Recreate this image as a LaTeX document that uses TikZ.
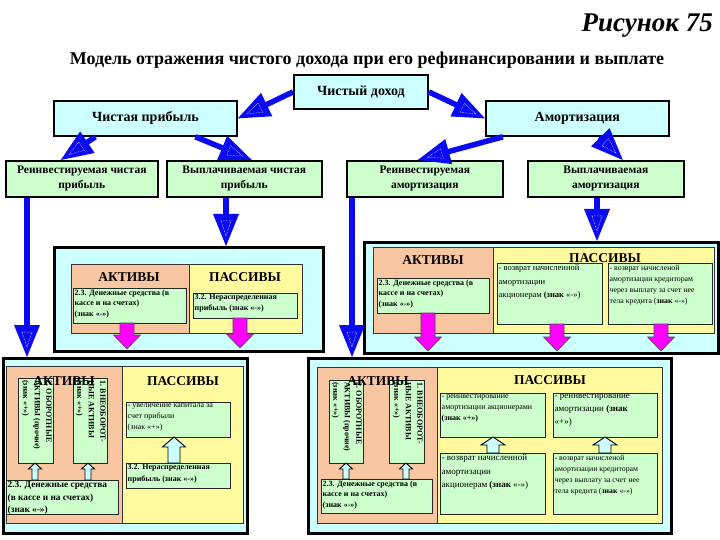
\documentclass[tikz,border=0pt]{standalone}
\usepackage{fontspec}
\setmainfont{Liberation Serif}
\usetikzlibrary{decorations.markings,calc}
\definecolor{cyanbg}{HTML}{CCFFFF}
\definecolor{greenbg}{HTML}{CCFFCC}
\definecolor{orangebg}{HTML}{F8C6A0}
\definecolor{yellowbg}{HTML}{FFFA9E}
\definecolor{arrowblue}{HTML}{0A0AF5}
\definecolor{magentaar}{HTML}{FF00FF}
\newcommand\fsz[1]{\fontsize{#1}{#1}\selectfont}
% block arrow: x, y1 (start), y2 (tip), shaft half, head half, head length (signed), style
\newcommand\blockarr[7]{%
  \filldraw[#7] ({#1-#4},#2) -- ({#1-#4},{#3-#6}) -- ({#1-#5},{#3-#6}) -- (#1,#3)
    -- ({#1+#5},{#3-#6}) -- ({#1+#4},{#3-#6}) -- ({#1+#4},#2) -- cycle;}
% text box: name, x, y, w, h, font, text
\newcommand\txtbox[7]{%
  \node[tboxshape, minimum width=#4pt, minimum height=#5pt] (#1) at (#2,#3) {};
  \node[tboxtext, font=#6] (#1t) at ([xshift=0.5pt,yshift=-0.5pt]#1.north west) {#7};}
% vertical text box
\newcommand\vertbox[6]{%
  \node[tboxshape, minimum width=#4pt, minimum height=#5pt] (#1) at (#2,#3) {};
  \node[vtext, rotate=-90, anchor=north west] (#1t) at ([xshift=-1pt,yshift=-1pt]#1.north east) {#6};}
\begin{document}
\begin{tikzpicture}[x=1pt,y=-1pt,
  topbox/.style={draw, line width=1.8pt, fill=cyanbg, anchor=north west, inner sep=0pt,
    align=center, font=\bfseries\fsz{14}},
  greenbox/.style={draw, line width=1.6pt, fill=greenbg, anchor=north west, inner sep=0pt,
    align=center, font=\bfseries\fontsize{11.5}{15}\selectfont},
  panel/.style={draw, line width=2.5pt, fill=cyanbg, anchor=north west, inner sep=0pt},
  actarea/.style={draw=black!80, line width=0.8pt, fill=orangebg, anchor=north west, inner sep=0pt},
  pasarea/.style={draw=black!80, line width=0.8pt, fill=yellowbg, anchor=north west, inner sep=0pt},
  hdr/.style={font=\bfseries\fsz{13.5}, inner sep=0pt},
  tboxshape/.style={draw=black!85, line width=0.9pt, fill=greenbg, anchor=north west, inner sep=0pt},
  tboxtext/.style={anchor=north west, align=left, inner sep=1pt},
  vtext/.style={align=left, inner sep=1pt, font=\bfseries\fontsize{8}{11.5}\selectfont},
  barrow/.style={draw=arrowblue, line width=5.5pt, shorten >=24pt,
    postaction={decorate, decoration={markings, mark=at position 1 with {
      \fill[arrowblue, draw=none] (0,0) -- (-32,13) -- (-32,-13) -- cycle;
      \draw[white, line width=0.5pt, densely dotted, shorten >=0pt] (-10,0) -- (-25,5) -- (-25,-5) -- cycle;}}}},
  magar/.style={fill=magentaar, draw=black!70, line width=0.6pt},
  uparr/.style={fill=cyanbg, draw=black, line width=0.9pt}
]
\useasboundingbox (0,0) rectangle (720,540);

% titles
\node[font=\bfseries\itshape\fsz{27}, anchor=east, inner sep=0pt] (fig) at (713,26) {Рисунок 75};
\node[font=\bfseries\fsz{18}, inner sep=0pt] (subt) at (367,60) {Модель отражения чистого дохода при его рефинансировании и выплате};

% top boxes
\node[topbox, minimum width=134pt, minimum height=34pt] (cd) at (293,74) {Чистый доход};
\node[topbox, minimum width=183pt, minimum height=35pt] (cp) at (53,100) {Чистая прибыль};
\node[topbox, minimum width=183pt, minimum height=35pt] (am) at (485,100) {Амортизация};

\node[greenbox, minimum width=152pt, minimum height=36pt] (rcp) at (5,160) {Реинвестируемая чистая\\прибыль};
\node[greenbox, minimum width=155pt, minimum height=36pt] (vcp) at (166,160) {Выплачиваемая чистая\\прибыль};
\node[greenbox, minimum width=156pt, minimum height=36pt] (ram) at (346,160) {Реинвестируемая\\амортизация};
\node[greenbox, minimum width=156pt, minimum height=36pt] (vam) at (527,160) {Выплачиваемая\\амортизация};

% panels
\node[panel, minimum width=269pt, minimum height=104pt] (pml) at (53,246) {};
\node[panel, minimum width=354pt, minimum height=111pt] (pmr) at (363,241) {};
\node[panel, minimum width=244pt, minimum height=175pt] (pbl) at (2,357) {};
\node[panel, minimum width=363pt, minimum height=175pt] (pbr) at (307,357) {};

% blue arrows
\draw[barrow] (cd.west) -- (cp.east);
\draw[barrow] (cd.east) -- (am.west);
\draw[barrow] ([xshift=-50pt]cp.south) -- ([xshift=-21pt]rcp.north);
\draw[barrow] ([xshift=50pt]cp.south) -- ([xshift=7.5pt]vcp.north);
\draw[barrow] ([xshift=-74.5pt]am.south) -- ([xshift=-7pt]ram.north);
\draw[barrow] ([xshift=22.5pt]am.south) -- ([xshift=17pt]vam.north);
\coordinate (e1) at (27,357);
\coordinate (e2) at (226,246);
\coordinate (e3) at (352,357);
\coordinate (e4) at (597,241);
\draw[barrow] (rcp.south -| e1) -- (e1);
\draw[barrow] (vcp.south -| e2) -- (e2);
\draw[barrow] (ram.south -| e3) -- (e3);
\draw[barrow] (vam.south -| e4) -- (e4);

% ---- middle left panel
\node[actarea, minimum width=118pt, minimum height=69pt] (mla) at (71,264) {};
\node[pasarea, minimum width=113pt, minimum height=69pt] (mlp) at (189,264) {};
\node[hdr] (mlah) at (129,277) {АКТИВЫ};
\node[hdr] (mlph) at (245,277) {ПАССИВЫ};
\txtbox{mlc}{73}{288}{113}{35}{\bfseries\fontsize{8}{10.5}\selectfont}{2.3. Денежные средства (в\\кассе и на счетах)\\(знак «-»)}
\txtbox{mln}{193}{293}{104}{25}{\bfseries\fontsize{8}{11}\selectfont}{3.2. Нераспределенная\\прибыль (знак «-»)}
\blockarr{127}{323}{349}{7}{13.5}{14}{magar}
\blockarr{240}{318}{348}{7}{13.5}{14}{magar}

% ---- middle right panel
\node[actarea, minimum width=120pt, minimum height=86pt] (mra) at (373,247) {};
\node[pasarea, minimum width=221pt, minimum height=86pt] (mrp) at (493,247) {};
\node[hdr] (mrah) at (433,260) {АКТИВЫ};
\node[hdr] (mrph) at (605,258) {ПАССИВЫ};
\txtbox{mrc}{377}{278}{112}{35}{\bfseries\fontsize{8}{10.5}\selectfont}{2.3. Денежные средства (в\\кассе и на счетах)\\(знак «-»)}
\txtbox{mrA}{497}{263}{105}{61}{\fontsize{8.5}{13.5}\selectfont}{- возврат начисленной\\амортизации\\акционерам \textbf{(знак} «-»)}
\txtbox{mrB}{608}{263}{104}{61}{\fontsize{7.8}{11}\selectfont}{- возврат начисленой\\амортизации кредиторам\\через выплату за счет нее\\тела кредита (\textbf{знак} «-»)}
\blockarr{428}{313}{351}{7}{13.5}{14}{magar}
\blockarr{557}{324}{351}{7}{13.5}{14}{magar}
\blockarr{661}{324}{351}{7}{13.5}{14}{magar}

% ---- bottom left panel
\node[actarea, minimum width=116pt, minimum height=157pt] (bla) at (6,366) {};
\node[pasarea, minimum width=121pt, minimum height=157pt] (blp) at (122,366) {};
\vertbox{blv1}{18}{378}{35}{85}{2. ОБОРОТНЫЕ\\АКТИВЫ (прочие)\\(знак «+»)}
\vertbox{blv2}{73}{378}{34}{85}{1. ВНЕОБОРОТ-\\НЫЕ АКТИВЫ\\(знак «+»)}
\node[hdr] (blah) at (64,381) {АКТИВЫ};
\node[hdr] (blph) at (183,381) {ПАССИВЫ};
\txtbox{blc}{6}{480}{112}{34}{\bfseries\fontsize{9.3}{12.5}\selectfont}{2.3. Денежные средства\\(в кассе и на счетах)\\(знак «-»)}
\txtbox{blu}{126}{402}{104}{35}{\fontsize{8}{11}\selectfont}{- увеличение капитала за\\счет прибыли\\(знак «+»)}
\txtbox{bln}{126}{463}{104}{25}{\bfseries\fontsize{8}{11}\selectfont}{3.2. Нераспределенная\\прибыль (знак «-»)}
\blockarr{35}{480}{463}{3}{6.5}{-6}{uparr}
\blockarr{88}{480}{463}{3}{6.5}{-6}{uparr}
\blockarr{174}{463}{437}{6}{11.5}{-10}{uparr}

% ---- bottom right panel
\node[actarea, minimum width=120pt, minimum height=156pt] (bra) at (317,367) {};
\node[pasarea, minimum width=225pt, minimum height=156pt] (brp) at (437,367) {};
\vertbox{brv1}{329}{380}{34}{83}{2. ОБОРОТНЫЕ\\АКТИВЫ (прочие)\\(знак «+»)}
\vertbox{brv2}{389}{380}{35}{83}{1. ВНЕОБОРОТ-\\НЫЕ АКТИВЫ\\(знак «+»)}
\node[hdr] (brah) at (378,381) {АКТИВЫ};
\node[hdr] (brph) at (550,380) {ПАССИВЫ};
\txtbox{brc}{321}{479}{111}{34}{\bfseries\fontsize{8}{10.5}\selectfont}{2.3. Денежные средства (в\\кассе и на счетах)\\(знак «-»)}
\txtbox{brA}{440}{393}{105}{44}{\fontsize{8}{11}\selectfont}{- реинвестирование\\амортизации акционерами\\\textbf{(знак «+»)}}
\txtbox{brB}{553}{393}{104}{44}{\fontsize{9}{13}\selectfont}{- реинвестирование\\амортизации \textbf{(знак}\\«+»)}
\txtbox{brC}{440}{453}{105}{61}{\fontsize{9}{13.5}\selectfont}{- возврат начисленной\\амортизации\\акционерам \textbf{(знак} «-»)}
\txtbox{brD}{553}{453}{104}{61}{\fontsize{7.8}{11}\selectfont}{- возврат начисленой\\амортизации кредиторам\\через выплату за счет нее\\тела кредита (\textbf{знак} «-»)}
\blockarr{346}{479}{463}{3}{6.5}{-6}{uparr}
\blockarr{406}{479}{463}{3}{6.5}{-6}{uparr}
\blockarr{493}{453}{437}{6}{12}{-8}{uparr}
\blockarr{605}{453}{437}{6}{12}{-8}{uparr}
\end{tikzpicture}
\end{document}
